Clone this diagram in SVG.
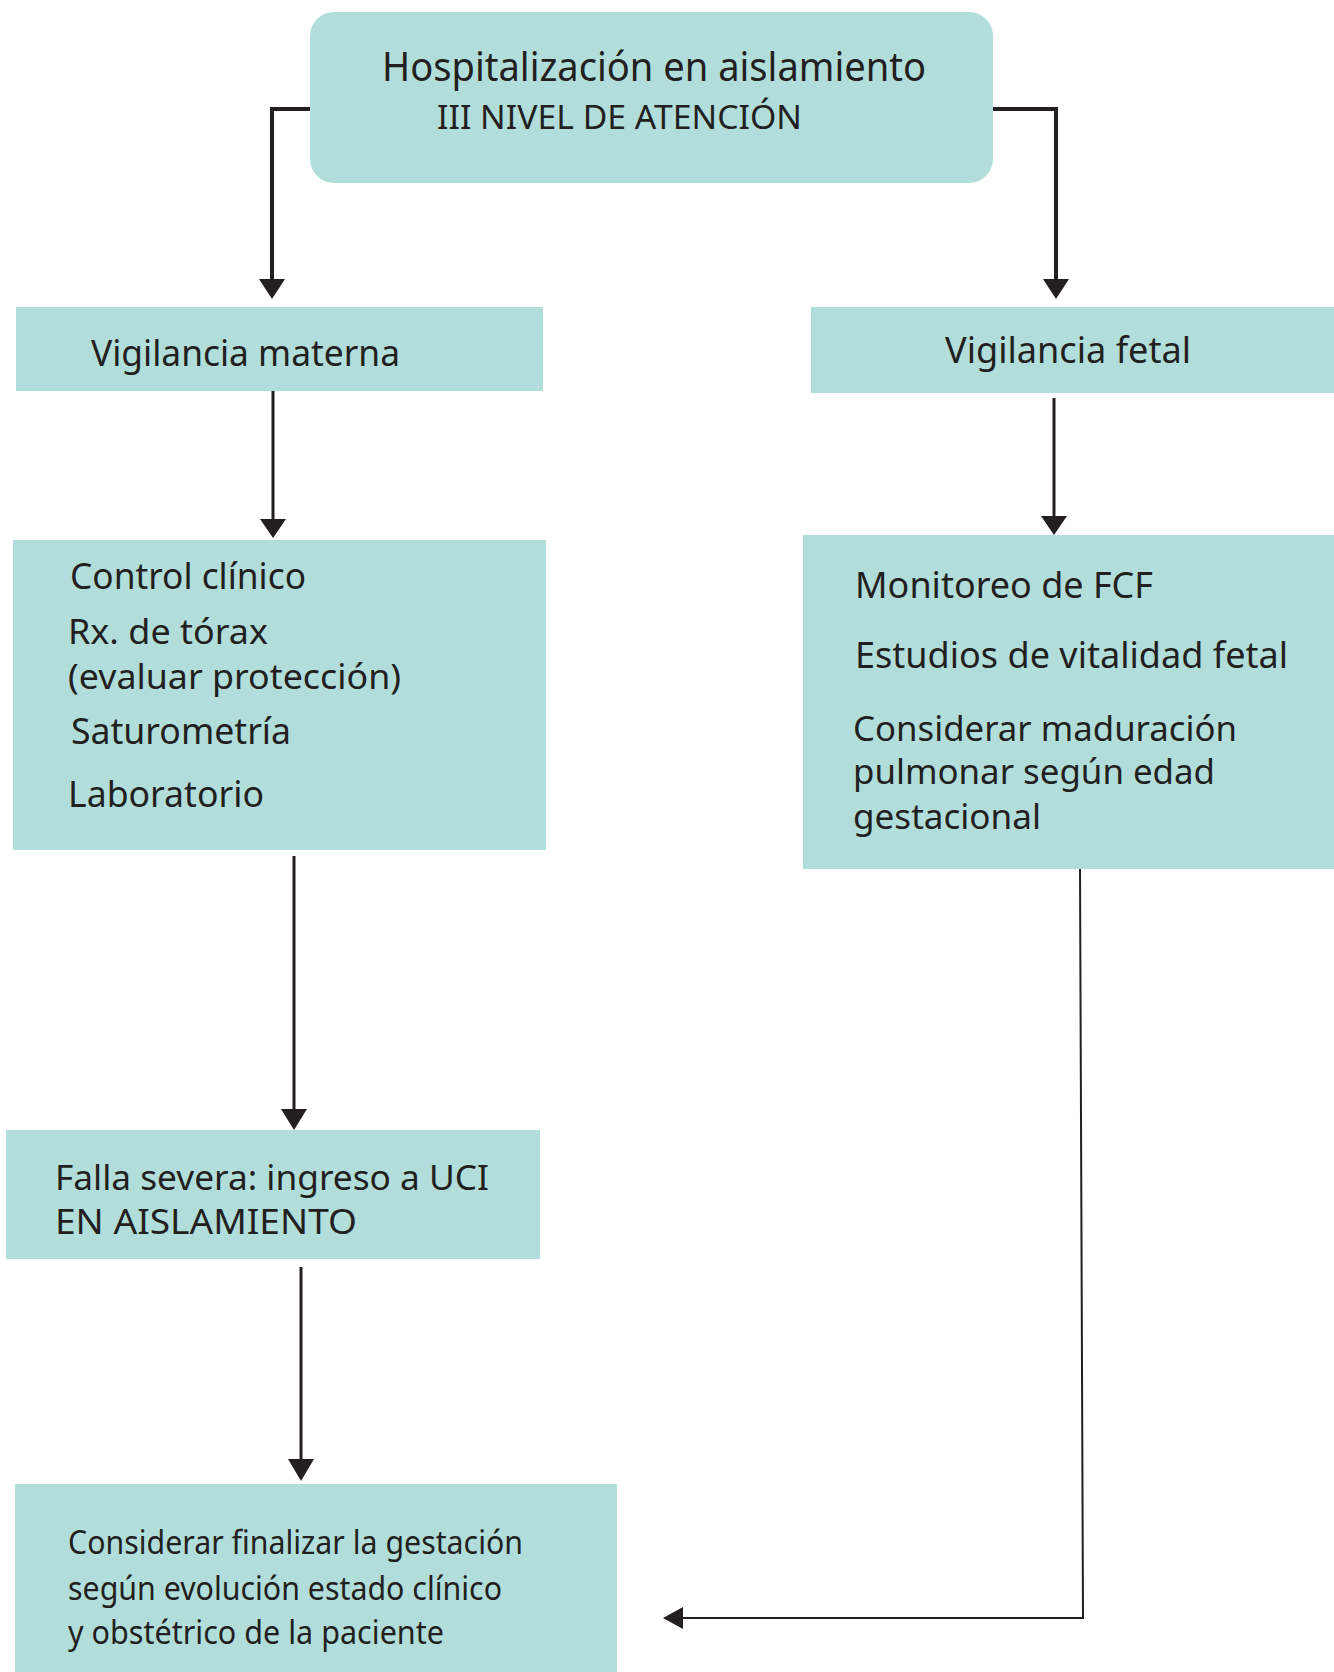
<svg xmlns="http://www.w3.org/2000/svg" width="1334" height="1672" viewBox="0 0 1334 1672">
<style>
.box{fill:#b1dedb;}
.t{font-family:"Noto Sans","Open Sans","DejaVu Sans",sans-serif;fill:#231f20;}
.c{stroke:#231f20;fill:none;}
</style>
<rect width="1334" height="1672" fill="#ffffff"/>
<g id="connectors">
<path class="c" stroke-width="4" d="M310,109 H272 V279"/>
<path d="M259,279 L285,279 L272,299 Z" fill="#231f20"/>
<path class="c" stroke-width="4" d="M993,109 H1056 V279"/>
<path d="M1043,279 L1069,279 L1056,299 Z" fill="#231f20"/>
<path class="c" stroke-width="3" d="M273,391 V520"/>
<path d="M260,519 L286,519 L273,538 Z" fill="#231f20"/>
<path class="c" stroke-width="3" d="M1054,398 V517"/>
<path d="M1041,516 L1067,516 L1054,535 Z" fill="#231f20"/>
<path class="c" stroke-width="3" d="M294,856 V1110"/>
<path d="M281,1109 L307,1109 L294,1130 Z" fill="#231f20"/>
<path class="c" stroke-width="3" d="M301,1267 V1460"/>
<path d="M288,1459 L314,1459 L301,1481 Z" fill="#231f20"/>
<path class="c" stroke-width="2" d="M1080,867 L1083,1618 H682"/>
<path d="M683,1607 L683,1629 L663,1618 Z" fill="#231f20"/>
</g>
<g id="n-top">
<rect class="box" x="310" y="12" width="683" height="171" rx="24"/>
<text class="t" x="382" y="81" font-size="40" textLength="544" lengthAdjust="spacingAndGlyphs">Hospitalización en aislamiento</text>
<text class="t" x="437" y="129" font-size="33" textLength="365" lengthAdjust="spacingAndGlyphs">III NIVEL DE ATENCIÓN</text>
</g>
<g id="n-materna">
<rect class="box" x="16" y="307" width="527" height="84"/>
<text class="t" x="91" y="366" font-size="36" textLength="309" lengthAdjust="spacingAndGlyphs">Vigilancia materna</text>
</g>
<g id="n-fetal">
<rect class="box" x="811" y="307" width="523" height="86"/>
<text class="t" x="945" y="363" font-size="36" textLength="246" lengthAdjust="spacingAndGlyphs">Vigilancia fetal</text>
</g>
<g id="n-control">
<rect class="box" x="13" y="540" width="533" height="310"/>
<text class="t" x="70" y="589" font-size="36" textLength="236" lengthAdjust="spacingAndGlyphs">Control clínico</text>
<text class="t" x="68" y="644" font-size="35" textLength="200" lengthAdjust="spacingAndGlyphs">Rx. de tórax</text>
<text class="t" x="68" y="689" font-size="35" textLength="333" lengthAdjust="spacingAndGlyphs">(evaluar protección)</text>
<text class="t" x="71" y="744" font-size="36" textLength="220" lengthAdjust="spacingAndGlyphs">Saturometría</text>
<text class="t" x="68" y="807" font-size="36" textLength="196" lengthAdjust="spacingAndGlyphs">Laboratorio</text>
</g>
<g id="n-monitoreo">
<rect class="box" x="803" y="535" width="531" height="334"/>
<text class="t" x="855" y="598" font-size="36" textLength="298" lengthAdjust="spacingAndGlyphs">Monitoreo de FCF</text>
<text class="t" x="855" y="668" font-size="36" textLength="433" lengthAdjust="spacingAndGlyphs">Estudios de vitalidad fetal</text>
<text class="t" x="853" y="741" font-size="34" textLength="384" lengthAdjust="spacingAndGlyphs">Considerar maduración</text>
<text class="t" x="853" y="784" font-size="34" textLength="362" lengthAdjust="spacingAndGlyphs">pulmonar según edad</text>
<text class="t" x="853" y="829" font-size="34" textLength="188" lengthAdjust="spacingAndGlyphs">gestacional</text>
</g>
<g id="n-falla">
<rect class="box" x="6" y="1130" width="534" height="129"/>
<text class="t" x="55" y="1190" font-size="35" textLength="434" lengthAdjust="spacingAndGlyphs">Falla severa: ingreso a UCI</text>
<text class="t" x="55" y="1234" font-size="35" textLength="302" lengthAdjust="spacingAndGlyphs">EN AISLAMIENTO</text>
</g>
<g id="n-final">
<rect class="box" x="15" y="1484" width="602" height="188"/>
<text class="t" x="68" y="1554" font-size="32" textLength="455" lengthAdjust="spacingAndGlyphs">Considerar finalizar la gestación</text>
<text class="t" x="68" y="1600" font-size="32" textLength="434" lengthAdjust="spacingAndGlyphs">según evolución estado clínico</text>
<text class="t" x="68" y="1644" font-size="32" textLength="376" lengthAdjust="spacingAndGlyphs">y obstétrico de la paciente</text>
</g>
</svg>
